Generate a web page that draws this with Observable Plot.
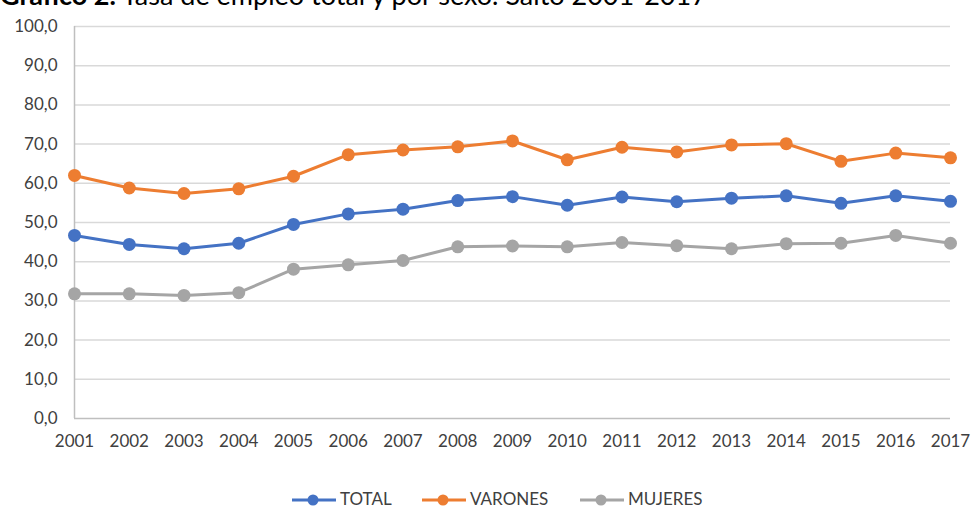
<!DOCTYPE html>
<html>
<head>
<meta charset="utf-8">
<script src="https://cdn.jsdelivr.net/npm/d3@7"></script>
<script src="https://cdn.jsdelivr.net/npm/@observablehq/plot@0.6"></script>
<style>
  html, body { margin: 0; padding: 0; background: #fff; width: 971px; height: 509px; overflow: hidden; }
  #wrap { position: relative; width: 971px; height: 509px; font-family: Lato, "Open Sans", sans-serif; overflow: hidden; }
  #title { position: absolute; left: 0; top: -21px; font-size: 27px; line-height: 1.2; color: #000; white-space: nowrap; }
  #chart { position: absolute; left: 0; top: 0; }
  #legend { position: absolute; top: 489px; left: 0; width: 971px; height: 20px; }
  .item { position: absolute; top: 0; height: 20px; display: flex; align-items: center; font-size: 17px; line-height: 20px; color: #404040; }
</style>
</head>
<body>
<div id="wrap">
  <div id="chart"></div>
  <div id="title"><b>Gráfico 2.</b> Tasa de empleo total y por sexo. Salto 2001-2017</div>
  <div id="legend"></div>
</div>
<script>
const years = [2001, 2002, 2003, 2004, 2005, 2006, 2007, 2008, 2009, 2010, 2011, 2012, 2013, 2014, 2015, 2016, 2017];
const total   = [46.7, 44.4, 43.3, 44.7, 49.5, 52.2, 53.4, 55.6, 56.6, 54.4, 56.5, 55.3, 56.2, 56.8, 54.9, 56.8, 55.4];
const varones = [62.0, 58.8, 57.4, 58.6, 61.8, 67.3, 68.5, 69.3, 70.8, 66.0, 69.2, 68.0, 69.8, 70.1, 65.6, 67.7, 66.5];
const mujeres = [31.8, 31.8, 31.4, 32.1, 38.1, 39.2, 40.3, 43.8, 44.0, 43.8, 44.9, 44.1, 43.3, 44.6, 44.7, 46.7, 44.7];
const seriesNames = ["TOTAL", "VARONES", "MUJERES"];
const seriesColors = ["#4472C4", "#ED7D31", "#A5A5A5"];
const yTicks = [0, 10, 20, 30, 40, 50, 60, 70, 80, 90, 100];

const seriesValues = [total, varones, mujeres];
const rows = [];
seriesNames.forEach((s, i) => years.forEach((y, j) => rows.push({serie: s, year: y, value: seriesValues[i][j]})));

const fmt = d => d.toFixed(1).replace(".", ",");

const chart = Plot.plot({
  width: 971,
  height: 460,
  marginLeft: 74,
  marginRight: 21,
  marginTop: 26,
  marginBottom: 42,
  style: { fontFamily: "Lato, 'Open Sans', sans-serif", fontSize: "17px", color: "#404040", background: "transparent" },
  x: { type: "linear", domain: [years[0], years[years.length - 1]] },
  y: { domain: [0, 100] },
  color: { domain: seriesNames, range: seriesColors },
  marks: [
    Plot.ruleY(yTicks.filter(d => d > 0), { stroke: "#d9d9d9", strokeWidth: 1.5 }),
    Plot.ruleY([0], { stroke: "#bfbfbf", strokeWidth: 1.5 }),
    Plot.ruleX([years[0]], { y1: 0, y2: 100, stroke: "#bfbfbf", strokeWidth: 1.5 }),
    Plot.axisY({ ticks: yTicks, tickSize: 0, tickPadding: 17, tickFormat: fmt, label: null, fontSize: 17 }),
    Plot.axisX({ ticks: years, tickSize: 0, tickPadding: 16, tickFormat: d => String(d), label: null, fontSize: 17 }),
    Plot.line(rows, { x: "year", y: "value", z: "serie", stroke: "serie", strokeWidth: 3 }),
    Plot.dot(rows, { x: "year", y: "value", fill: "serie", r: 6.5 })
  ]
});
document.getElementById("chart").appendChild(chart);

const legendPos = [292, 422, 580];
const legend = document.getElementById("legend");
seriesNames.forEach((name, i) => {
  const item = document.createElement("div");
  item.className = "item";
  item.style.left = legendPos[i] + "px";
  item.innerHTML = `<svg width="44" height="20"><line x1="0" y1="11" x2="44" y2="11" stroke="${seriesColors[i]}" stroke-width="3"/><circle cx="21" cy="11" r="5.5" fill="${seriesColors[i]}"/></svg><span style="margin-left:4px">${name}</span>`;
  legend.appendChild(item);
});
</script>
</body>
</html>
